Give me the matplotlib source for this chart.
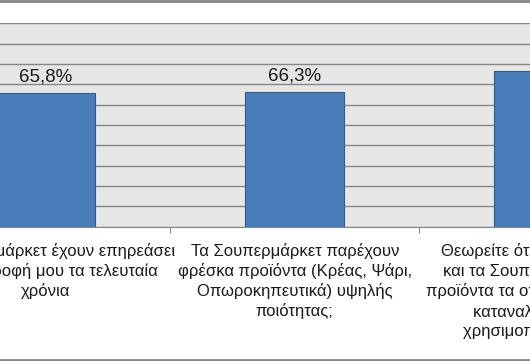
import matplotlib
matplotlib.use("Agg")
import matplotlib.pyplot as plt
from matplotlib.lines import Line2D

plt.rcParams['font.family'] = ['Liberation Sans', 'DejaVu Sans']

# δεδομένα
kathgories = [
    "Τα Σουπερμάρκετ έχουν επηρεάσει\nτην διατροφή μου τα τελευταία\nχρόνια",
    "Τα Σουπερμάρκετ παρέχουν\nφρέσκα προϊόντα (Κρέας, Ψάρι,\nΟπωροκηπευτικά) υψηλής\nποιότητας;",
    "Θεωρείτε ότι οι Υπεραγορές\nκαι τα Σουπερμάρκετ έχουν\nπροϊόντα τα οποία προτιμούν οι\nκαταναλωτές και τα\nχρησιμοποιούν συχνά",
]
pososta = [65.8, 66.3, 76.5]
etiketes = ["65,8%", "66,3%", "76,5%"]

fig = plt.figure(figsize=(5.3, 3.61), dpi=100)
ax = fig.add_axes([0, 0.372, 1, 0.5635])
ax.set_facecolor('#e6e6e6')

x = list(range(len(pososta)))
ax.bar(x, pososta, width=0.40, color='#4a7ebb', edgecolor='#2f5b8a', linewidth=0.8, zorder=3)

ax.set_xlim(-0.1835, 1.945)
ax.set_ylim(0, 100)
ax.set_yticks(range(0, 101, 10))
ax.yaxis.grid(True, color='#868686', linewidth=1.0)
ax.set_axisbelow(True)
for s in ['left', 'right', 'top']:
    ax.spines[s].set_visible(False)
ax.spines['bottom'].set_color('#868686')
ax.tick_params(axis='y', left=False, labelleft=False)
ax.set_xticks([0.5, 1.5])
ax.set_xticklabels([])
ax.tick_params(axis='x', direction='out', length=4, color='#868686')

# ετικέτες τιμών
for xi, v, lab in zip(x, pososta, etiketes):
    ax.annotate(lab, (xi, v), xytext=(0, 8.5), textcoords='offset points',
                ha='center', va='baseline', fontsize=13.5, color='#1a1a1a')

# ετικέτες κατηγοριών
for xi, k in zip(x, kathgories):
    ax.annotate(k, (xi, 0), xytext=(0, -12), textcoords='offset points',
                ha='center', va='top', fontsize=12, color='#1a1a1a',
                linespacing=1.3, annotation_clip=False)

# πλαίσιο γραφήματος
fig.add_artist(Line2D([0, 1], [1 - 1.2 / 361, 1 - 1.2 / 361], color='#868686', linewidth=2.0))
fig.add_artist(Line2D([0, 1], [1.2 / 361, 1.2 / 361], color='#868686', linewidth=2.0))

fig.savefig('out.png', dpi=100)
